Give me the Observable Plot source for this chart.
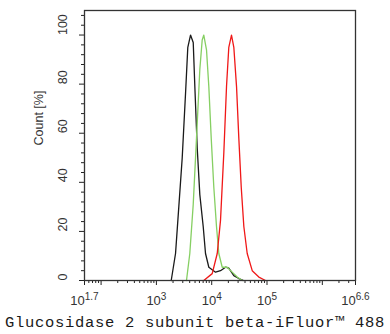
<!DOCTYPE html>
<html><head><meta charset="utf-8">
<script src="https://cdn.jsdelivr.net/npm/d3@7"></script>
<script src="https://cdn.jsdelivr.net/npm/@observablehq/plot@0.6"></script>
<style>
body{margin:0;background:#fff;}
#title{font-family:"Liberation Mono",monospace;font-size:15.5px;letter-spacing:0.7px;white-space:nowrap;text-align:center;width:390px;height:22px;line-height:22px;color:#1a1a1a;}
</style></head><body><div id="chart"></div><div id="title"></div>
<script>
// Data (fluorescence intensity, count %)
const blackX = [1854, 2218, 2541, 2930, 3360, 3697, 4140, 4634, 4955, 5470, 6097, 7020, 7727, 8870, 11720, 14430, 17780, 20380, 25120, 30920, 37580];
const blackY = [0, 11, 30, 50, 76, 95, 100, 97, 79, 54, 35, 22, 11, 5.4, 3.4, 4, 5.4, 5, 2, 0.8, 0];
const greenX = [3500, 4018, 4634, 5310, 6097, 6730, 7194, 8054, 8870, 9800, 10920, 12210, 13450, 15490, 19060, 23490, 28910, 35650];
const greenY = [0, 11, 31, 58, 86, 98, 100, 94, 79, 58, 38, 22, 11, 5.4, 5.4, 3.4, 1.4, 0];
const redX = [7194, 10210, 12590, 14430, 16560, 18530, 20380, 22800, 25120, 28120, 30920, 34200, 38110, 43850, 54050, 71120, 93970];
const redY = [0, 2.8, 11, 24.5, 52, 79, 95, 100, 95, 79, 58, 38, 22, 11, 4, 1.4, 0];

const xLabelPos = [10 ** 1.7, 1e3, 1e4, 1e5, 10 ** 6.6];
const xLabelExp = ["1.7", "3", "4", "5", "6.6"];
const xMajor = [10 ** 1.7, 1e2, 1e3, 1e4, 1e5, 1e6, 10 ** 6.6];
const yMajor = [0, 20, 40, 60, 80, 100];
const yLabel = "Count [%]";
const title = "Glucosidase 2 subunit beta-iFluor\u2122 488";

const xMinor = [];
for (let d = 1; d <= 6; d++) for (let k = 2; k <= 9; k++) {
  const v = k * 10 ** d;
  if (v > 10 ** 1.7 && v < 10 ** 6.6) xMinor.push(v);
}
const yMinor = d3.range(4, 110, 4).filter(v => v % 20 !== 0);

const toRows = (xs, ys) => xs.map((x, i) => ({x, y: ys[i]}));

const chart = Plot.plot({
  width: 390,
  height: 312,
  marginLeft: 84,
  marginRight: 35,
  marginTop: 10,
  marginBottom: 32,
  style: {fontFamily: "'Liberation Sans', Arial, sans-serif", fontSize: "12px", color: "#222", background: "#fff"},
  x: {type: "log", domain: [10 ** 1.7, 10 ** 6.6]},
  y: {domain: [0, 110]},
  marks: [
    Plot.axisX({ticks: xMajor, tickSize: 5, tickFormat: () => "", label: null}),
    Plot.axisX({ticks: xMinor, tickSize: 3, tickFormat: () => "", label: null}),
    Plot.axisY({ticks: yMajor, tickSize: 5, tickFormat: () => "", label: null}),
    Plot.axisY({ticks: yMinor, tickSize: 3, tickFormat: () => "", label: null}),
    Plot.text(xLabelPos, {x: d => d, text: (d, i) => "10^" + xLabelExp[i], frameAnchor: "bottom", dy: 24, fontSize: 13, fill: "#333"}),
    Plot.text(yMajor, {y: d => d, text: d => String(d), frameAnchor: "left", dx: -22, rotate: -90, fontSize: 12.5, fill: "#333"}),
    Plot.text([yLabel], {text: d => d, frameAnchor: "left", dx: -46, rotate: -90, fontSize: 12.5, fill: "#333"}),
    Plot.line(toRows(blackX, blackY), {x: "x", y: "y", stroke: "#1a1a1a", strokeWidth: 1.3}),
    Plot.line(toRows(greenX, greenY), {x: "x", y: "y", stroke: "#86cf63", strokeWidth: 1.3}),
    Plot.line(toRows(redX, redY), {x: "x", y: "y", stroke: "#f01818", strokeWidth: 1.3}),
    Plot.frame({stroke: "#333", strokeWidth: 1.3})
  ]
});

// superscript exponents on x tick labels
chart.querySelectorAll("text").forEach(t => {
  const s = t.textContent;
  if (s.includes("^")) {
    const [base, exp] = s.split("^");
    t.textContent = base;
    const sp = document.createElementNS("http://www.w3.org/2000/svg", "tspan");
    sp.setAttribute("dy", "-5");
    sp.setAttribute("font-size", "10");
    sp.textContent = exp;
    t.appendChild(sp);
  }
});

document.getElementById("chart").appendChild(chart);
document.getElementById("title").textContent = title;
</script></body></html>
